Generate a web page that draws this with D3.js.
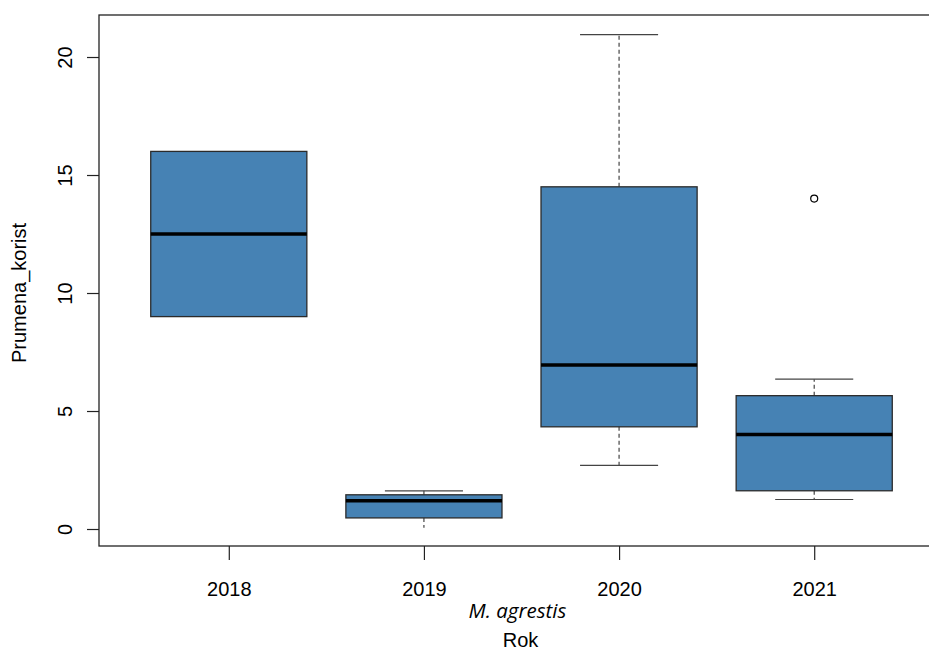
<!DOCTYPE html>
<html>
<head>
<meta charset="utf-8">
<script src="https://cdn.jsdelivr.net/npm/d3@7"></script>
<style>
  body { margin: 0; background: #fff; }
  svg { display: block; font-family: "Liberation Sans", Arial, sans-serif; }
</style>
</head>
<body>
<div id="chart"></div>
<script>
(function (d3) {

    // data
    var years = ['2018', '2019', '2020', '2021'];
    var whiskerLow  = [9.0, 0.05, 2.7, 1.25];
    var boxLow      = [9.0, 0.47, 4.33, 1.62];
    var medians     = [12.5, 1.2, 6.95, 4.0];
    var boxHigh     = [16.0, 1.45, 14.5, 5.65];
    var whiskerHigh = [16.0, 1.62, 20.95, 6.35];
    var outliers    = [[], [], [], [14.0]];
    var yTicks = [0, 5, 10, 15, 20];

    var width = 929,
        height = 650;

    var left = 99, top = 15, bottom = 546;

    var xScale = d3.scaleLinear().domain([0.34, 4.66]).range([left + 1, 943]);
    var yScale = d3.scaleLinear().domain([-0.72, 21.78]).range([bottom, top]);

    var boxHalf = 0.4, capHalf = 0.2;

    var svg = d3.select('#chart')
        .append('svg')
        .attr('width', width)
        .attr('height', height);

    var stats = years.map(function (year, i) {
        return {
            year: year, pos: i + 1,
            wl: whiskerLow[i], q1: boxLow[i], med: medians[i],
            q3: boxHigh[i], wh: whiskerHigh[i], out: outliers[i]
        };
    });

    var boxes = svg.append('g').selectAll('g')
        .data(stats)
        .enter()
        .append('g');

    // whiskers
    boxes.filter(function (d) { return d.wh > d.q3; })
        .append('line')
        .attr('x1', function (d) { return xScale(d.pos); })
        .attr('x2', function (d) { return xScale(d.pos); })
        .attr('y1', function (d) { return yScale(d.q3); })
        .attr('y2', function (d) { return yScale(d.wh); })
        .attr('stroke', '#444').attr('stroke-width', 1.2)
        .attr('stroke-dasharray', '4,3');

    boxes.filter(function (d) { return d.wl < d.q1; })
        .append('line')
        .attr('x1', function (d) { return xScale(d.pos); })
        .attr('x2', function (d) { return xScale(d.pos); })
        .attr('y1', function (d) { return yScale(d.q1); })
        .attr('y2', function (d) { return yScale(d.wl); })
        .attr('stroke', '#444').attr('stroke-width', 1.2)
        .attr('stroke-dasharray', '4,3');

    // caps
    boxes.filter(function (d) { return d.wh > d.q3; })
        .append('line')
        .attr('x1', function (d) { return xScale(d.pos - capHalf); })
        .attr('x2', function (d) { return xScale(d.pos + capHalf); })
        .attr('y1', function (d) { return yScale(d.wh); })
        .attr('y2', function (d) { return yScale(d.wh); })
        .attr('stroke', '#444').attr('stroke-width', 1.2);

    boxes.filter(function (d) { return d.wl < d.q1 && d.wl > 0.1; })
        .append('line')
        .attr('x1', function (d) { return xScale(d.pos - capHalf); })
        .attr('x2', function (d) { return xScale(d.pos + capHalf); })
        .attr('y1', function (d) { return yScale(d.wl); })
        .attr('y2', function (d) { return yScale(d.wl); })
        .attr('stroke', '#444').attr('stroke-width', 1.2);

    // box
    boxes.append('rect')
        .attr('x', function (d) { return xScale(d.pos - boxHalf); })
        .attr('width', function (d) { return xScale(d.pos + boxHalf) - xScale(d.pos - boxHalf); })
        .attr('y', function (d) { return yScale(d.q3); })
        .attr('height', function (d) { return yScale(d.q1) - yScale(d.q3); })
        .attr('fill', 'steelblue')
        .attr('stroke', '#2b2b2b')
        .attr('stroke-width', 1.3);

    // median
    boxes.append('line')
        .attr('x1', function (d) { return xScale(d.pos - boxHalf); })
        .attr('x2', function (d) { return xScale(d.pos + boxHalf); })
        .attr('y1', function (d) { return yScale(d.med); })
        .attr('y2', function (d) { return yScale(d.med); })
        .attr('stroke', '#000')
        .attr('stroke-width', 3.5);

    // outliers
    boxes.selectAll('circle')
        .data(function (d) { return d.out.map(function (v) { return { pos: d.pos, v: v }; }); })
        .enter()
        .append('circle')
        .attr('cx', function (o) { return xScale(o.pos); })
        .attr('cy', function (o) { return yScale(o.v); })
        .attr('r', 3.5)
        .attr('fill', 'none')
        .attr('stroke', '#000')
        .attr('stroke-width', 1.2);

    // plot frame
    svg.append('rect')
        .attr('x', left)
        .attr('y', top)
        .attr('width', 943 - left)
        .attr('height', bottom - top)
        .attr('fill', 'none')
        .attr('stroke', '#222')
        .attr('stroke-width', 1.3);

    // axes
    var xAxis = d3.axisBottom(xScale)
        .tickValues(stats.map(function (d) { return d.pos; }))
        .tickFormat(function (p) { return years[p - 1]; })
        .tickSizeInner(14)
        .tickSizeOuter(0);

    var gx = svg.append('g')
        .attr('transform', 'translate(0,' + bottom + ')')
        .call(xAxis);
    gx.select('.domain').remove();
    gx.selectAll('line').attr('stroke', '#222').attr('stroke-width', 1.2);
    gx.selectAll('text')
        .attr('font-size', 20).attr('fill', '#000')
        .attr('font-family', '"Liberation Sans", Arial, sans-serif')
        .attr('y', 50).attr('dy', 0);

    var yAxis = d3.axisLeft(yScale)
        .tickValues(yTicks)
        .tickSizeInner(12)
        .tickSizeOuter(0);

    var gy = svg.append('g')
        .attr('transform', 'translate(' + left + ',0)')
        .call(yAxis);
    gy.select('.domain').remove();
    gy.selectAll('line').attr('stroke', '#222').attr('stroke-width', 1.2);
    gy.selectAll('text')
        .attr('font-size', 20).attr('fill', '#000')
        .attr('font-family', '"Liberation Sans", Arial, sans-serif')
        .attr('text-anchor', 'middle')
        .attr('dy', 0)
        .attr('x', 0).attr('y', 0)
        .attr('transform', 'translate(-27,0) rotate(-90)');

    // titles
    svg.append('text')
        .attr('x', xScale(2.5) - 4)
        .attr('y', 618)
        .attr('text-anchor', 'middle')
        .attr('font-size', 20.5)
        .attr('font-style', 'italic')
        .attr('font-family', '"Open Sans", "Noto Sans", sans-serif')
        .attr('fill', '#000')
        .text('M. agrestis');

    svg.append('text')
        .attr('x', xScale(2.5) - 1)
        .attr('y', 647)
        .attr('text-anchor', 'middle')
        .attr('font-size', 20)
        .attr('fill', '#000')
        .text('Rok');

    svg.append('text')
        .attr('transform', 'translate(26,363) rotate(-90)')
        .attr('text-anchor', 'start')
        .attr('font-size', 20)
        .attr('fill', '#000')
        .text('Prumena_korist');

})(d3);
</script>
</body>
</html>
